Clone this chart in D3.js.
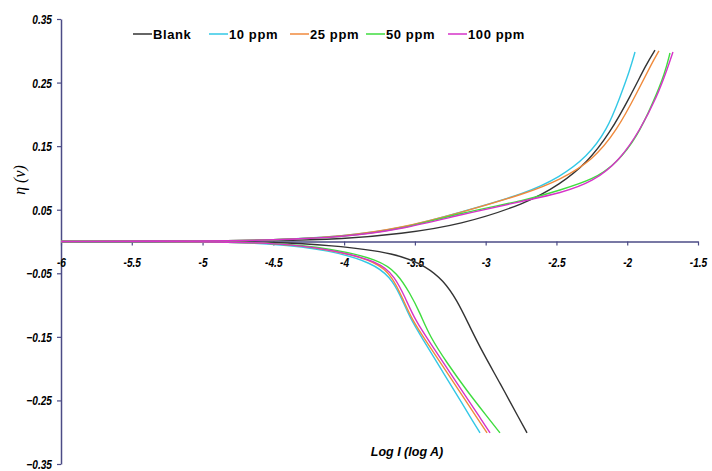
<!DOCTYPE html>
<html><head><meta charset="utf-8">
<script src="https://cdn.jsdelivr.net/npm/d3@7"></script>
<style>
html,body{margin:0;padding:0;background:#fff;}
.tick-label{font-family:"Liberation Sans","Arial",sans-serif;font-weight:bold;font-style:italic;font-size:12.5px;fill:#000;}
.legend{font-family:"Liberation Sans","Arial",sans-serif;font-weight:bold;font-size:13px;letter-spacing:0.6px;fill:#000;}
</style></head>
<body><svg id="c" width="712" height="471"></svg>
<script>
// ---- data ----
const seriesNames = ["Blank", "10 ppm", "25 ppm", "50 ppm", "100 ppm"];
const seriesColors = ["#333333", "#33c8e6", "#f08a3c", "#3fdc3f", "#d633c8"];
const xTicks = [-6, -5.5, -5, -4.5, -4, -3.5, -3, -2.5, -2, -1.5];
const yTicks = [0.35, 0.25, 0.15, 0.05, -0.05, -0.15, -0.25, -0.35];

// anodic branches [logI, eta]
const anodicBlank = [[-6,0],[-5,0.001],[-4.5,0.001],[-4,0.004],[-3.6,0.012],[-3.18,0.026],[-2.71,0.06],[-2.475,0.09],[-2.284,0.1235],[-2.122,0.1707],[-1.981,0.2273],[-1.86,0.281],[-1.804,0.301]];
const anodic10 = [[-6,0],[-5,0.001],[-4.5,0.002],[-4,0.008],[-3.6,0.02],[-3.18,0.046],[-2.71,0.076],[-2.475,0.1015],[-2.284,0.133],[-2.143,0.175],[-2.051,0.227],[-1.981,0.27],[-1.945,0.298]];
const anodic25 = [[-6,0],[-5,0.001],[-4.5,0.002],[-4,0.008],[-3.6,0.021],[-3.18,0.045],[-2.71,0.076],[-2.475,0.097],[-2.242,0.128],[-2.072,0.175],[-1.931,0.234],[-1.825,0.281],[-1.776,0.3]];
const anodic50 = [[-6,0],[-5,0.001],[-4.5,0.002],[-4,0.007],[-3.6,0.019],[-3.18,0.045],[-2.71,0.065],[-2.475,0.081],[-2.242,0.097],[-2.072,0.1235],[-1.931,0.1644],[-1.818,0.218],[-1.733,0.265],[-1.698,0.2965]];
const anodic100 = [[-6,0],[-5,0.001],[-4.5,0.002],[-4,0.007],[-3.6,0.019],[-3.18,0.042],[-2.71,0.065],[-2.475,0.076],[-2.242,0.0936],[-2.051,0.1282],[-1.91,0.1754],[-1.79,0.2273],[-1.712,0.2746],[-1.677,0.298]];

// cathodic branches [logI, eta]
const cathodicBlank = [[-6,0],[-5,0],[-4.5,-0.001],[-4.1,-0.0055],[-3.626,-0.018],[-3.415,-0.04],[-3.301,-0.061],[-3.203,-0.092],[-3.111,-0.1345],[-3.019,-0.1754],[-2.899,-0.2226],[-2.758,-0.2808],[-2.708,-0.301]];
const cathodic10 = [[-6,0],[-5,0],[-4.5,-0.003],[-4.1,-0.0134],[-3.796,-0.034],[-3.676,-0.0558],[-3.605,-0.083],[-3.535,-0.1205],[-3.443,-0.154],[-3.301,-0.206],[-3.16,-0.257],[-3.09,-0.283],[-3.04,-0.301]];
const cathodic25 = [[-6,0],[-5,0],[-4.5,-0.002],[-4.1,-0.012],[-3.76,-0.032],[-3.66,-0.0558],[-3.59,-0.0873],[-3.52,-0.1235],[-3.415,-0.1587],[-3.275,-0.2056],[-3.135,-0.2525],[-3.062,-0.277],[-2.99,-0.301]];
const cathodic50 = [[-6,0],[-5,0],[-4.5,-0.002],[-4.1,-0.0102],[-3.747,-0.029],[-3.626,-0.0496],[-3.535,-0.081],[-3.464,-0.1125],[-3.393,-0.15],[-3.273,-0.191],[-3.132,-0.235],[-2.991,-0.275],[-2.899,-0.301]];
const cathodic100 = [[-6,0],[-5,0],[-4.5,-0.002],[-4.1,-0.0118],[-3.747,-0.032],[-3.641,-0.0558],[-3.57,-0.0873],[-3.499,-0.1235],[-3.393,-0.159],[-3.252,-0.2062],[-3.111,-0.2534],[-3.04,-0.277],[-2.969,-0.301]];

const series = seriesNames.map((n,i)=>({
  name:n, color:seriesColors[i],
  anodic:[anodicBlank,anodic10,anodic25,anodic50,anodic100][i],
  cathodic:[cathodicBlank,cathodic10,cathodic25,cathodic50,cathodic100][i]
}));

// ---- drawing ----
const svg = d3.select("#c");
const x = d3.scaleLinear().domain([-6,-1.5]).range([61,698]);
const y = d3.scaleLinear().domain([-0.35,0.35]).range([464,19]);
const axisColor = "#4b4b86";
const narrow = "scale(0.78,1)";

// y axis
const yAxis = svg.append("g").attr("transform",`translate(${x(-6)},0)`)
  .call(d3.axisLeft(y).tickValues(yTicks).tickSize(4).tickSizeOuter(0).tickFormat(d=>d3.format(".2f")(d)));
yAxis.select(".domain").attr("stroke",axisColor).attr("stroke-width",1.5);
yAxis.selectAll(".tick line").attr("stroke",axisColor).attr("stroke-width",1.2);
yAxis.selectAll(".tick text").attr("class","tick-label").attr("x",-9/0.78).attr("dy","0.35em")
  .attr("transform",narrow).style("font-size","13px");

// x axis at eta = 0
const xAxis = svg.append("g").attr("transform",`translate(0,${y(0)})`)
  .call(d3.axisBottom(x).tickValues(xTicks).tickSize(4).tickSizeOuter(0).tickFormat(d=>String(d)));
xAxis.select(".domain").attr("stroke",axisColor).attr("stroke-width",1.5);
xAxis.selectAll(".tick line").attr("stroke",axisColor).attr("stroke-width",1.2);
xAxis.selectAll(".tick text").attr("class","tick-label").attr("y",21).attr("dy","0.35em")
  .attr("transform",narrow).style("font-size","13px");

// curves
const line = d3.line().x(d=>x(d[0])).y(d=>y(d[1])).curve(d3.curveBasis);
const g = svg.append("g");
series.forEach(s=>{
  [s.anodic, s.cathodic].forEach(b=>{
    g.append("path").attr("d",line(b)).attr("fill","none")
      .attr("stroke",s.color).attr("stroke-width",1.4);
  });
});

// axis titles
svg.append("text").attr("transform","translate(25,180) rotate(-90)")
  .attr("text-anchor","middle")
  .style("font-family","'Liberation Serif','Times New Roman',serif")
  .style("font-style","italic").style("font-size","16px").text("η (v)");
svg.append("text").attr("x",407).attr("y",456).attr("text-anchor","middle")
  .style("font-family","'Liberation Sans','Arial',sans-serif")
  .style("font-style","italic").style("font-weight","bold").style("font-size","12.5px")
  .text("Log I (log A)");

// legend
const legendX = [133, 209, 290, 366, 448];
const lg = svg.append("g");
series.forEach((s,i)=>{
  lg.append("line").attr("x1",legendX[i]).attr("x2",legendX[i]+19)
    .attr("y1",34).attr("y2",34).attr("stroke",s.color).attr("stroke-width",1.5);
  lg.append("text").attr("class","legend").attr("x",legendX[i]+20).attr("y",38.5).text(s.name);
});
</script>
</body></html>
